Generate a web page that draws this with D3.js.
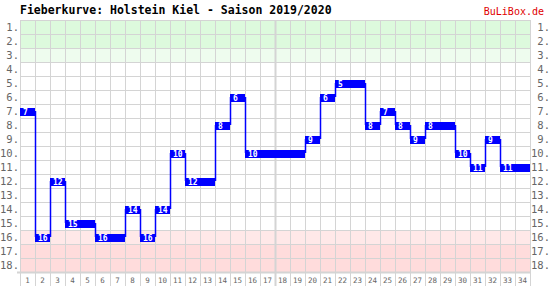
<!DOCTYPE html>
<html><head><meta charset="utf-8">
<script src="https://cdn.jsdelivr.net/npm/d3@7"></script>
<style>body{margin:0;background:#fff}svg{display:block}</style>
</head><body>
<script>
const title = "Fieberkurve: Holstein Kiel - Saison 2019/2020";
const brand = "BuLiBox.de";
const matchdays = d3.range(1, 35);
const positions = [7,16,12,15,15,16,16,14,16,14,10,12,12,8,6,10,10,10,10,9,6,5,5,8,7,8,9,8,8,10,11,9,11,11];
const ranks = d3.range(1, 19);
const zones = [
  {from:1,to:2,color:"#ddfadd"},
  {from:3,to:3,color:"#eefcee"},
  {from:16,to:16,color:"#ffe8e8"},
  {from:17,to:18,color:"#ffdcdc"}
];

const W = 551, H = 286;
const svg = d3.select("body").append("svg").attr("width", W).attr("height", H);
const x = d3.scaleBand().domain(matchdays).range([20, 530]);
const y = d3.scaleBand().domain(ranks).range([20, 272]);

// zones
svg.append("g").selectAll("rect").data(zones).join("rect")
  .attr("x", 20).attr("width", 510)
  .attr("y", d => y(d.from)).attr("height", d => y(d.to) + y.bandwidth() - y(d.from))
  .attr("fill", d => d.color);

// grid
const grid = svg.append("g").attr("stroke", "#d4d4d4").attr("stroke-width", 1);
grid.selectAll("line.h").data(d3.range(0, 18)).join("line")
  .attr("x1", 20).attr("x2", 530)
  .attr("y1", d => Math.round(20 + d * y.bandwidth()) + 0.5)
  .attr("y2", d => Math.round(20 + d * y.bandwidth()) + 0.5);
grid.selectAll("line.v").data(d3.range(0, 35)).join("line")
  .attr("x1", d => 20 + d * x.bandwidth() + 0.5).attr("x2", d => 20 + d * x.bandwidth() + 0.5)
  .attr("y1", 20).attr("y2", 286)
  .attr("stroke-width", d => d === 17 ? 2 : 1);
svg.append("line").attr("x1", 17).attr("x2", 530).attr("y1", 272.5).attr("y2", 272.5)
  .attr("stroke", "#d4d4d4").attr("stroke-width", 2);

// axes
const fontMono = "'DejaVu Sans Mono', monospace";
const left = svg.append("g").attr("transform", "translate(19,0)")
  .call(d3.axisLeft(y).tickSize(0).tickPadding(0).tickFormat(d => d + "."));
const right = svg.append("g").attr("transform", "translate(550,0)")
  .call(d3.axisRight(y).tickSize(0).tickPadding(0).tickFormat(d => d + "."));
right.selectAll("text").attr("text-anchor", "end");
[left, right].forEach(g => {
  g.select(".domain").remove();
  g.selectAll("text").attr("font-family", fontMono).attr("font-size", 10.5)
    .attr("fill", "#666").attr("dy", "0.42em");
});
const bottom = svg.append("g").attr("transform", "translate(0,272)")
  .call(d3.axisBottom(x).tickSize(0).tickPadding(0));
bottom.select(".domain").remove();
bottom.selectAll("text").attr("font-family", fontMono).attr("font-size", 7.5)
  .attr("fill", "#666").attr("dy", 0).attr("y", 10.5);

// curve
const blue = "#0000ff";
const steps = matchdays.slice(1).map((m, i) => ({m, a: positions[i], b: positions[i + 1]}))
  .filter(d => d.a !== d.b);
svg.append("g").selectAll("line").data(steps).join("line")
  .attr("x1", d => x(d.m) + 0.5).attr("x2", d => x(d.m) + 0.5)
  .attr("y1", d => y(d.a) + y.bandwidth() / 2).attr("y2", d => y(d.b) + y.bandwidth() / 2)
  .attr("stroke", blue).attr("stroke-width", 1.5);
svg.append("g").selectAll("rect").data(matchdays).join("rect")
  .attr("x", d => x(d)).attr("width", x.bandwidth())
  .attr("y", (d, i) => y(positions[i]) + 4).attr("height", 8)
  .attr("fill", blue);
const labels = matchdays.map((m, i) => ({m, v: positions[i]}))
  .filter((d, i) => i === 0 || positions[i] !== positions[i - 1]);
svg.append("g").selectAll("text").data(labels).join("text")
  .attr("x", d => x(d.m) + 3).attr("y", d => y(d.v) + 11)
  .attr("font-family", fontMono).attr("font-size", 8).attr("font-weight", "bold")
  .attr("fill", "#fff").text(d => d.v);

// title
svg.append("text").attr("x", 20).attr("y", 14)
  .attr("font-family", fontMono).attr("font-weight", "bold").attr("font-size", 11.5)
  .attr("fill", "#000").text(title);
svg.append("text").attr("x", 544).attr("y", 15).attr("text-anchor", "end")
  .attr("font-family", fontMono).attr("font-size", 10)
  .attr("fill", "#e00000").text(brand);
</script>
</body></html>
